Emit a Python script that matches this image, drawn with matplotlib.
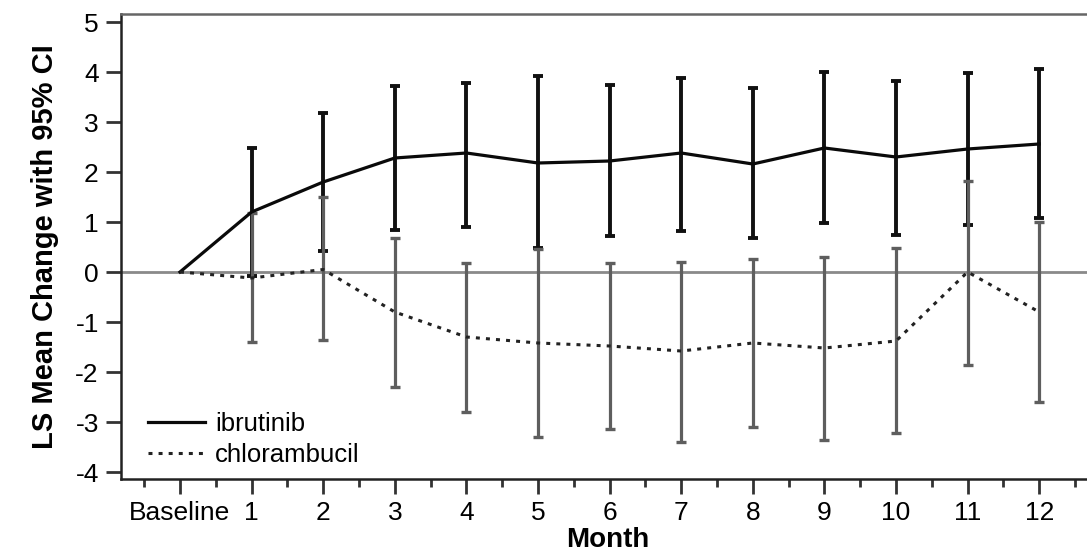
import matplotlib
matplotlib.use("Agg")
import matplotlib.pyplot as plt
from matplotlib.ticker import MultipleLocator

plt.rcParams['font.family'] = ['Liberation Sans', 'DejaVu Sans']
plt.rcParams['axes.unicode_minus'] = False

months = [0, 1, 2, 3, 4, 5, 6, 7, 8, 9, 10, 11, 12]
tick_labels = ["Baseline", "1", "2", "3", "4", "5", "6", "7", "8", "9", "10", "11", "12"]

ibr_mean = [0, 1.20, 1.80, 2.28, 2.38, 2.18, 2.22, 2.38, 2.16, 2.48, 2.30, 2.46, 2.56]
ibr_upper = [0, 2.48, 3.18, 3.72, 3.78, 3.92, 3.74, 3.88, 3.68, 4.00, 3.82, 3.98, 4.06]
ibr_lower = [0, -0.08, 0.42, 0.84, 0.90, 0.48, 0.72, 0.82, 0.68, 0.98, 0.74, 0.94, 1.08]

chl_mean = [0, -0.12, 0.05, -0.80, -1.30, -1.42, -1.48, -1.58, -1.42, -1.52, -1.38, 0.00, -0.80]
chl_upper = [0, 1.18, 1.50, 0.68, 0.18, 0.46, 0.18, 0.20, 0.26, 0.30, 0.48, 1.82, 1.00]
chl_lower = [0, -1.40, -1.36, -2.30, -2.80, -3.30, -3.14, -3.40, -3.10, -3.36, -3.22, -1.86, -2.60]

fig = plt.figure(figsize=(10.87, 5.6), dpi=100)
ax = fig.add_axes([121/1087, 1-479/560, (1095-121)/1087, (479-14)/560])

ax.axhline(0, color='#8a8a8a', lw=2.0, zorder=1)

# ibrutinib error bars
ib_err = [[m - l for m, l in zip(ibr_mean[1:], ibr_lower[1:])],
          [u - m for m, u in zip(ibr_mean[1:], ibr_upper[1:])]]
ax.errorbar(months[1:], ibr_mean[1:], yerr=ib_err, fmt='none', ecolor='#111111',
            elinewidth=2.8, capsize=3.5, capthick=2.8, zorder=2)
# chlorambucil error bars
ch_err = [[m - l for m, l in zip(chl_mean[1:], chl_lower[1:])],
          [u - m for m, u in zip(chl_mean[1:], chl_upper[1:])]]
ax.errorbar(months[1:], chl_mean[1:], yerr=ch_err, fmt='none', ecolor='#5e5e5e',
            elinewidth=2.3, capsize=3.5, capthick=2.4, zorder=3)

ax.plot(months, ibr_mean, color='#0a0a0a', lw=2.3, label='ibrutinib', zorder=4)
ax.plot(months, chl_mean, color='#222222', lw=2.2, linestyle=(0, (1.3, 2.0)),
        label='chlorambucil', zorder=4)

ax.set_xlim(-0.824, (1095-180)/71.6)
ax.set_ylim(-4.14, 5.16)

ax.set_xticks(months)
ax.set_xticklabels(tick_labels)
ax.xaxis.set_minor_locator(MultipleLocator(0.5))
ax.set_yticks(range(-4, 6))

for s in ['left', 'bottom', 'top']:
    ax.spines[s].set_linewidth(1.8)
    ax.spines[s].set_color('#222222')
ax.spines['top'].set_color('#666666')
ax.spines['right'].set_visible(False)

ax.tick_params(axis='both', which='major', direction='out', length=11, width=2.0,
               color='#333333', labelsize=19, pad=5)
ax.tick_params(axis='x', which='minor', direction='out', length=6, width=2.0, color='#333333')
ax.tick_params(axis='x', which='major', pad=5)
ax.tick_params(axis='y', which='minor', left=False)

ax.set_xlabel('Month', fontsize=20, fontweight='bold', labelpad=1)
ax.set_ylabel('LS Mean Change with 95% CI', fontsize=21, fontweight='bold', labelpad=12)

leg = ax.legend(loc='lower left', bbox_to_anchor=(0.028, 0.025), frameon=False,
                fontsize=18.5, handlelength=2.2, handletextpad=0.4, labelspacing=0.3,
                borderaxespad=0, borderpad=0)

fig.savefig('out.png', dpi=100)
